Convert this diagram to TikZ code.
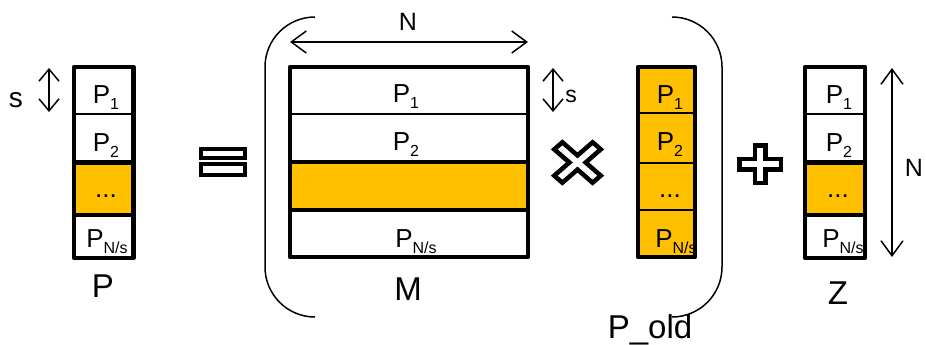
\documentclass[tikz,border=0pt]{standalone}
\usepackage{fontspec}
\setmainfont{Liberation Sans}
\usetikzlibrary{arrows.meta}
\definecolor{gold}{HTML}{FFC000}
% lowered, smaller index used in the block labels
\newcommand\lowidx[1]{\raisebox{-6.5pt}{\fontsize{16}{16}\selectfont #1}}
\tikzset{
  cellfont/.style={font=\fontsize{26}{26}\selectfont, inner sep=0pt, anchor=base},
  namefont/.style={font=\fontsize{33}{33}\selectfont, inner sep=0pt, anchor=base},
  dimfont/.style={font=\fontsize{25}{25}\selectfont, inner sep=0pt, anchor=base},
  outline/.style={line width=4.5pt, line join=round},
  divider/.style={line width=1.6pt},
  bracket/.style={line width=1.5pt, rounded corners=50pt},
  opsign/.style={line width=4.5pt, line join=miter, fill=white},
  dimarrow/.style={line width=1.5pt,
    {Straight Barb[length=15pt,width=22pt]}-{Straight Barb[length=15pt,width=22pt]}},
  shortarrow/.style={line width=1.5pt,
    {Straight Barb[length=12pt,width=20pt]}-{Straight Barb[length=12pt,width=20pt]}},
}
\begin{document}
\begin{tikzpicture}[x=1pt,y=-1pt]
\useasboundingbox (0,0) rectangle (926,345);

% ---------- vector P ----------
\fill[gold] (74,162.5) rectangle (133.5,215);
\draw[divider] (74,114) -- (133.5,114);
\draw[outline] (74,67) rectangle (133.5,258);
\draw[outline] (74,162.5) rectangle (133.5,215);
\node[cellfont] (p1) at (106,103) {P\lowidx{1}};
\node[cellfont] (p2) at (106,151) {P\lowidx{2}};
\node[cellfont] (pd) at (106,197) {...};
\node[cellfont] (pn) at (107,247) {P\lowidx{N/s}};
\node[namefont] (pname) at (103,297) {P};
% block height s
\coordinate (sa1) at (49,68);
\coordinate (sa2) at (49,112);
\draw[shortarrow] (sa1) -- (sa2);
\node[dimfont, font=\fontsize{28}{28}\selectfont] (slab1) at (16,107) {s};

% ---------- equals sign ----------
\draw[opsign, line width=3.8pt] (200.9,148.9) rectangle (245.1,158.1);
\draw[opsign, line width=3.8pt] (200.9,163.9) rectangle (245.1,175.1);

% ---------- brackets ----------
\draw[bracket] (315,17) -- (265,17) -- (265,317) -- (315,317);
\draw[bracket] (672,17) -- (722,17) -- (722,317) -- (672,317);

% ---------- matrix M ----------
\fill[gold] (290,162) rectangle (528,210);
\draw[divider] (290,114) -- (528,114);
\draw[outline] (290,67) rectangle (528,257);
\draw[outline] (290,162) rectangle (528,210);
\node[cellfont] (m1) at (406,102) {P\lowidx{1}};
\node[cellfont] (m2) at (406,150) {P\lowidx{2}};
\node[cellfont] (mn) at (416,247) {P\lowidx{N/s}};
\node[namefont] (mname) at (408,300) {M};
% width N
\coordinate (na1) at (290,42);
\coordinate (na2) at (528,42);
\draw[dimarrow] (na1) -- (na2);
\node[dimfont] (nlab1) at (408,31) {N};
% block height s
\coordinate (sb1) at (553,68);
\coordinate (sb2) at (553,112);
\draw[shortarrow] (sb1) -- (sb2);
\node[dimfont, font=\fontsize{23}{23}\selectfont] (slab2) at (571,102) {s};

% ---------- times sign ----------
\begin{scope}[shift={(577.5,162.5)}, xscale=1.15, rotate=45]
\draw[opsign] (-5,-23.6) -- (5,-23.6) -- (5,-5) -- (23.6,-5) -- (23.6,5)
  -- (5,5) -- (5,23.6) -- (-5,23.6) -- (-5,5) -- (-23.6,5)
  -- (-23.6,-5) -- (-5,-5) -- cycle;
\end{scope}

% ---------- vector P_old ----------
\fill[gold] (638,67) rectangle (695,257);
\draw[divider] (638,113) -- (695,113);
\draw[divider] (638,163) -- (695,163);
\draw[divider] (638,210) -- (695,210);
\node[cellfont] (o1) at (670,103) {P\lowidx{1}};
\node[cellfont] (o2) at (670,150) {P\lowidx{2}};
\node[cellfont] (od) at (670,197) {...};
\node[cellfont] (on) at (676,247) {P\lowidx{N/s}};
\draw[outline] (638,67) rectangle (695,257);
\node[namefont] (oname) at (650,338) {P\_old};

% ---------- plus sign ----------
\begin{scope}[shift={(760,164)}]
\draw[opsign] (-5.25,-18.75) -- (5.25,-18.75) -- (5.25,-5.25) -- (20.75,-5.25) -- (20.75,5.25)
  -- (5.25,5.25) -- (5.25,18.75) -- (-5.25,18.75) -- (-5.25,5.25) -- (-20.75,5.25)
  -- (-20.75,-5.25) -- (-5.25,-5.25) -- cycle;
\end{scope}

% ---------- vector Z ----------
\fill[gold] (805,162.5) rectangle (865,215);
\draw[divider] (805,114) -- (865,114);
\draw[outline] (805,67) rectangle (865,258);
\draw[outline] (805,162.5) rectangle (865,215);
\node[cellfont] (z1) at (839,103) {P\lowidx{1}};
\node[cellfont] (z2) at (839,151) {P\lowidx{2}};
\node[cellfont] (zd) at (838,197) {...};
\node[cellfont] (zn) at (843,247) {P\lowidx{N/s}};
\node[namefont] (zname) at (838,304) {Z};
% length N
\coordinate (nb1) at (892,68);
\coordinate (nb2) at (892,257);
\draw[dimarrow] (nb1) -- (nb2);
\node[dimfont] (nlab2) at (914,176) {N};
\end{tikzpicture}
\end{document}
